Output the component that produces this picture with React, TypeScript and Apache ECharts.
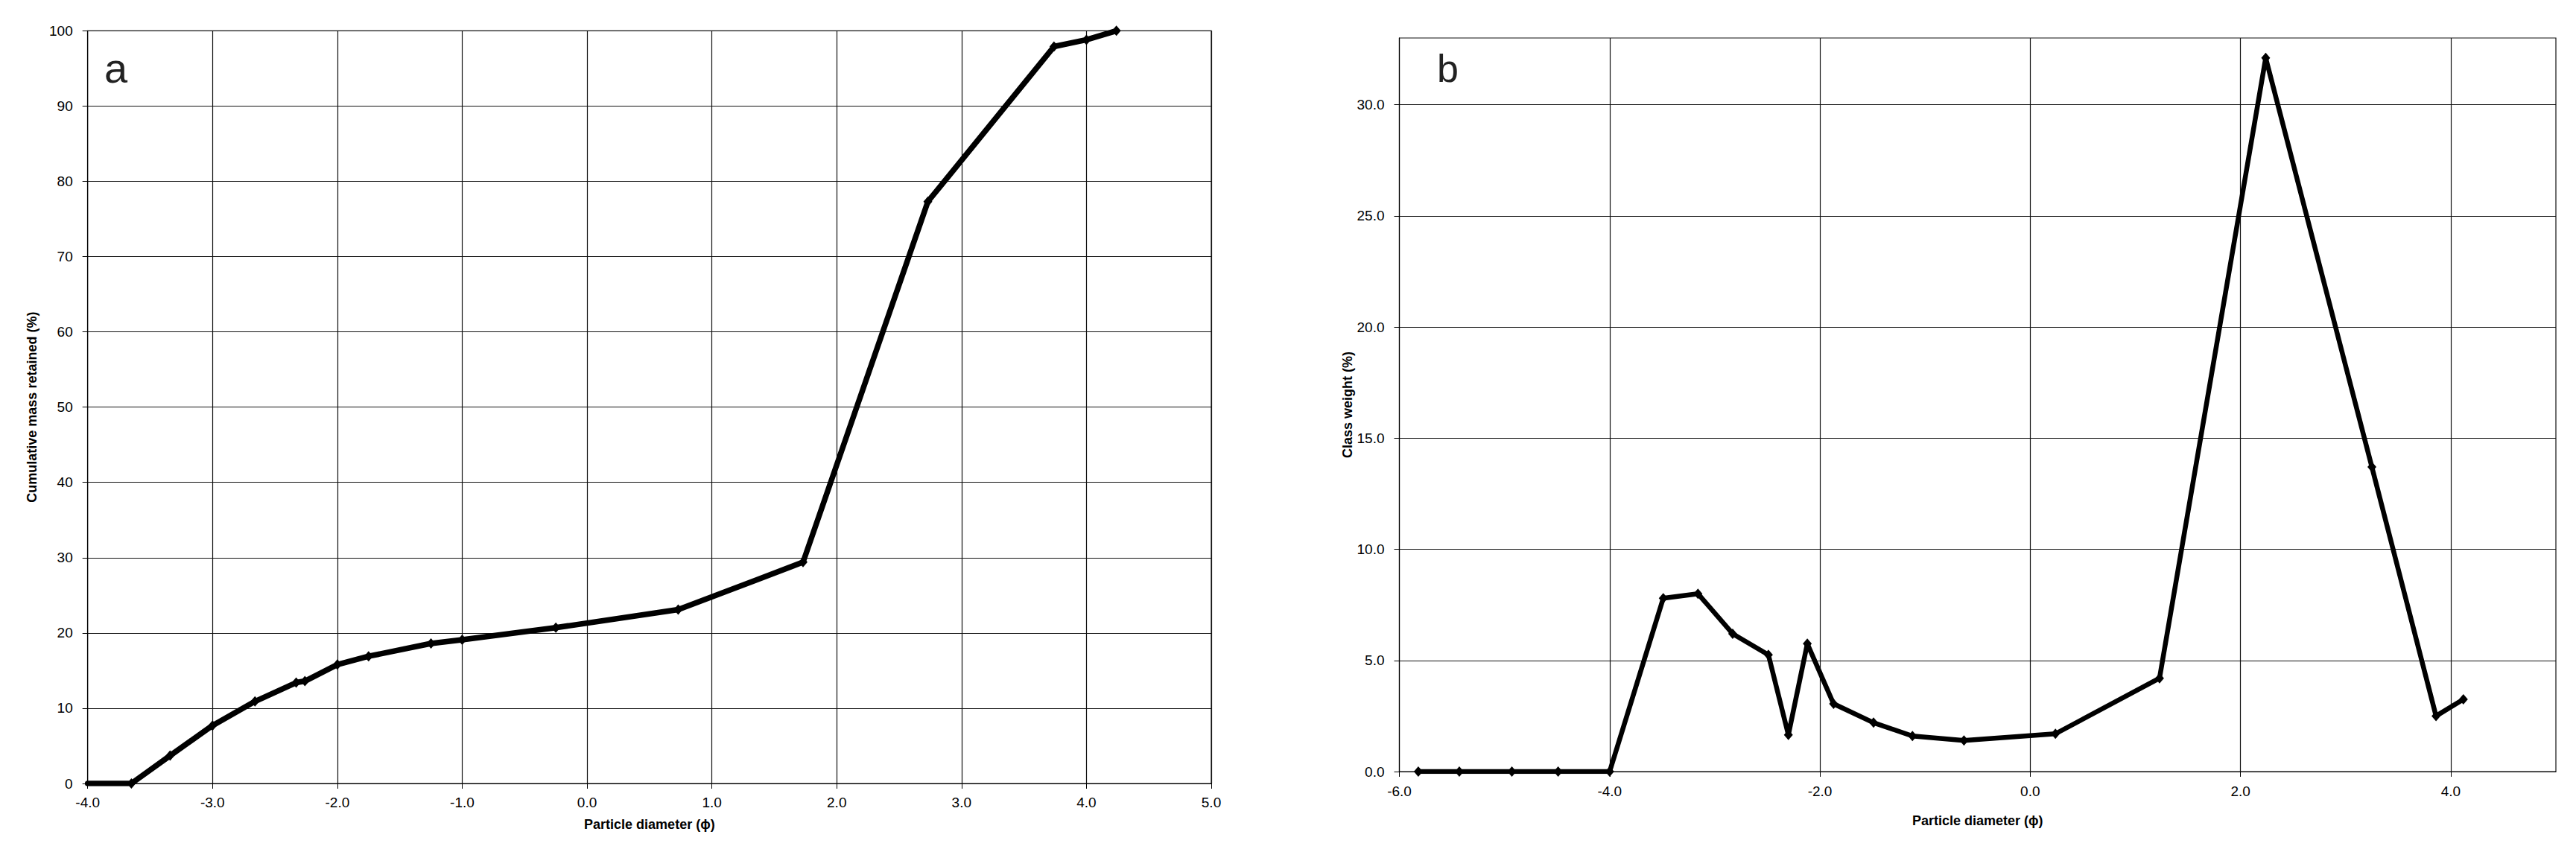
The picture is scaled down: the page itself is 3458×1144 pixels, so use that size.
import React, { useEffect, useRef } from "react";
import * as echarts from "echarts";

// Panel a: cumulative mass retained (%) vs particle diameter (phi)
const phiA = [-4.0, -3.65, -3.34, -3.0, -2.66, -2.33, -2.26, -2.0, -1.75, -1.25, -1.0, -0.25, 0.73, 1.73, 2.73, 3.74, 4.0, 4.24];
const cumA = [0, 0, 3.7, 7.7, 10.9, 13.4, 13.6, 15.8, 16.9, 18.6, 19.1, 20.7, 23.1, 29.4, 77.3, 97.9, 98.8, 100];

// Panel b: class weight (%) vs particle diameter (phi)
const phiB = [-5.82, -5.43, -4.93, -4.49, -4.0, -3.49, -3.16, -2.83, -2.49, -2.3, -2.12, -1.87, -1.49, -1.12, -0.63, 0.24, 1.23, 2.24, 3.25, 3.86, 4.12];
const weightB = [0, 0, 0, 0, 0, 7.8, 8.0, 6.2, 5.25, 1.65, 5.75, 3.05, 2.2, 1.6, 1.4, 1.7, 4.2, 32.1, 13.7, 2.5, 3.25];

// Tick values
const xTicksA = [-4, -3, -2, -1, 0, 1, 2, 3, 4, 5];
const yTicksA = [0, 10, 20, 30, 40, 50, 60, 70, 80, 90, 100];
const xTicksB = [-6, -4, -2, 0, 2, 4];
const yTicksB = [0, 5, 10, 15, 20, 25, 30];

const xTitle = "Particle diameter (\u03d5)";
const yTitleA = "Cumulative mass retained (%)";
const yTitleB = "Class weight (%)";

const FONT = '"Liberation Sans", Arial, "DejaVu Sans", sans-serif';

export default function App() {
  const ref = useRef<HTMLDivElement>(null);
  useEffect(() => {
    document.body.style.margin = "0";
    const chart = echarts.init(ref.current!, null, { renderer: "svg" });

    const axisLine = { show: true, onZero: false, lineStyle: { color: "#000", width: 1 } };
    const axisTick = (vals: number[]) => ({
      show: true,
      inside: false,
      length: 7,
      customValues: vals,
      lineStyle: { color: "#000", width: 1 },
    });
    const splitLine = { show: true, lineStyle: { color: "#111", width: 1.2 } };
    const labelBase = { fontSize: 19, color: "#000", fontFamily: FONT };
    const nameStyle = { fontSize: 18, fontWeight: "bold" as const, color: "#000", fontFamily: FONT };

    const dataA = phiA.map((x, i) =>
      i === 0 ? { value: [x, cumA[i]], symbol: "none" } : { value: [x, cumA[i]] }
    );
    const dataB = phiB.map((x, i) => [x, weightB[i]]);

    chart.setOption({
      animation: false,
      backgroundColor: "#fff",
      grid: [
        { left: 117.7, top: 41.3, width: 1508.3, height: 1010.7, show: true, borderColor: "#111", borderWidth: 1.2, containLabel: false },
        { left: 1878.5, top: 51, width: 1552.5, height: 985, show: true, borderColor: "#111", borderWidth: 1.2, containLabel: false },
      ],
      xAxis: [
        {
          gridIndex: 0,
          type: "value",
          min: -4,
          max: 5,
          interval: 1,
          axisLine,
          axisTick: axisTick(xTicksA),
          axisLabel: { ...labelBase, margin: 16, customValues: xTicksA, formatter: (v: number) => v.toFixed(1) },
          splitLine,
          name: xTitle,
          nameLocation: "middle",
          nameGap: 46,
          nameTextStyle: nameStyle,
        },
        {
          gridIndex: 1,
          type: "value",
          min: -6,
          max: 5,
          interval: 2,
          axisLine,
          axisTick: axisTick(xTicksB),
          axisLabel: {
            ...labelBase,
            margin: 17,
            customValues: xTicksB,
            formatter: (v: number) => (xTicksB.includes(v) ? v.toFixed(1) : ""),
          },
          splitLine,
          name: xTitle,
          nameLocation: "middle",
          nameGap: 57,
          nameTextStyle: nameStyle,
        },
      ],
      yAxis: [
        {
          gridIndex: 0,
          type: "value",
          min: 0,
          max: 100,
          interval: 10,
          axisLine,
          axisTick: axisTick(yTicksA),
          axisLabel: { ...labelBase, margin: 20, customValues: yTicksA, formatter: (v: number) => String(v) },
          splitLine,
          name: yTitleA,
          nameLocation: "middle",
          nameGap: 66,
          nameTextStyle: nameStyle,
        },
        {
          gridIndex: 1,
          type: "value",
          min: 0,
          max: 33,
          interval: 5,
          axisLine,
          axisTick: axisTick(yTicksB),
          axisLabel: {
            ...labelBase,
            margin: 20,
            customValues: yTicksB,
            formatter: (v: number) => (yTicksB.includes(v) ? v.toFixed(1) : ""),
          },
          splitLine,
          name: yTitleB,
          nameLocation: "middle",
          nameGap: 59,
          nameTextStyle: nameStyle,
        },
      ],
      series: [
        {
          type: "line",
          xAxisIndex: 0,
          yAxisIndex: 0,
          data: dataA,
          symbol: "diamond",
          symbolSize: [12, 14],
          itemStyle: { color: "#000" },
          lineStyle: { color: "#000", width: 7.5, join: "round", cap: "round" },
          z: 5,
        },
        {
          type: "line",
          xAxisIndex: 1,
          yAxisIndex: 1,
          data: dataB,
          symbol: "diamond",
          symbolSize: [12, 14],
          itemStyle: { color: "#000" },
          lineStyle: { color: "#000", width: 6.5, join: "round", cap: "round" },
          z: 5,
        },
      ],
      graphic: [
        {
          type: "text",
          x: 140,
          y: 91,
          style: { text: "a", font: `56px ${FONT}`, fill: "#222", verticalAlign: "middle", align: "left" },
        },
        {
          type: "text",
          x: 1929,
          y: 92,
          style: { text: "b", font: `52px ${FONT}`, fill: "#222", verticalAlign: "middle", align: "left" },
        },
      ],
    });

    return () => chart.dispose();
  }, []);
  return <div ref={ref} style={{ width: 3458, height: 1144 }} />;
}
